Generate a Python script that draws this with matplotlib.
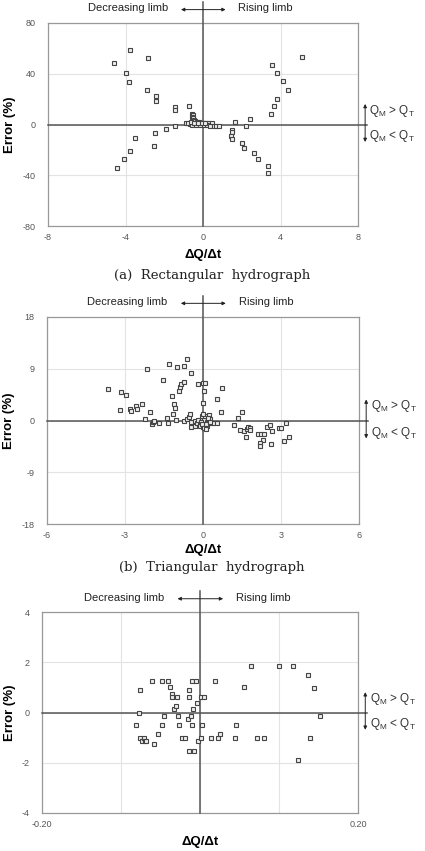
import matplotlib
matplotlib.use('Agg')
import matplotlib.pyplot as plt

plt.rcParams['font.family'] = ['Liberation Sans', 'DejaVu Sans']
plt.rcParams['axes.unicode_minus'] = False

# (a) Rectangular hydrograph
rect_dqdt = [-4.58, -3.75, -2.82, -3.98, -3.82, -2.87, -2.41, -2.41, -1.43, -1.43, -0.71,
             -1.46, -1.93, -2.50, -3.53, -2.53, -3.75, -4.10, -4.42,
             -0.55, -0.52, -0.55, -0.50, -0.45, -0.40, -0.30, -0.20, -0.10, 0.00, 0.10, 0.20, 0.30, 0.45,
             -0.86, -0.69, -0.55, -0.34, -0.17, 0.03, 0.21, 0.38, 0.55, 0.69, 0.81,
             -0.75, -0.60, -0.45, -0.25, -0.05, 0.12,
             5.09, 3.55, 3.84, 4.13, 4.37, 3.84, 3.68, 3.51, 2.43, 1.67, 2.20,
             1.48, 1.50, 1.45, 1.50, 2.03, 2.14, 2.65, 2.82, 3.36, 3.36]
rect_err = [48.3, 58.8, 52.8, 40.4, 33.8, 27.4, 22.7, 18.7, 14.0, 11.1, 14.8,
            -1.3, -3.7, -6.6, -10.6, -16.6, -20.8, -27.2, -34.0,
            8.5, 7.2, 6.0, 4.8, 3.8, 3.0, 2.2, 1.6, 1.2, 1.0, 0.8, 0.8, 0.8, 1.5,
            0.8, 0.5, 0.0, -0.3, -0.5, -0.6, -0.7, -0.8, -0.8, -0.8, -0.8,
            1.5, 1.6, 1.4, 1.2, 1.0, 1.3,
            53.0, 47.2, 40.9, 34.0, 26.9, 20.3, 14.5, 8.4, 4.5, 1.6, -1.5,
            -4.3, -6.3, -9.0, -11.6, -14.8, -18.5, -22.7, -27.5, -33.0, -38.6]

# (b) Triangular hydrograph
tri_dqdt = [-3.64, -3.16, -2.97, -3.21, -2.80, -2.77, -2.57, -2.54, -2.34, -2.25, -2.05, -2.15,
            -1.98, -1.93, -1.87, -1.68, -1.53, -1.39, -1.36, -1.32, -1.19, -1.10, -1.09, -1.16,
            -1.04, -1.01, -0.91, -0.87, -0.86, -0.73, -0.73, -0.60, -0.46, -0.72, -0.63, -0.55,
            -0.50, -0.47, -0.18, 0.00, 0.08, 0.03, 0.00, 0.52, 0.73, 0.69,
            -0.46, -0.32, -0.31, -0.24, -0.13, -0.12, -0.05, -0.03, 0.01, 0.04, 0.08, 0.14, 0.14,
            0.20, 0.24, 0.27, 0.33, 0.40, 0.52, -0.18, -0.09, 0.10, 0.27, -0.05, 0.20, -0.01,
            0.05, 0.12,
            1.20, 1.36, 1.51, 1.42, 1.59, 1.70, 1.74, 1.82, 1.82, 1.66, 2.12, 2.23, 2.34, 2.29,
            2.21, 2.21, 2.46, 2.56, 2.61, 2.67, 2.94, 2.99, 3.12, 3.18, 3.31]
tri_err = [5.5, 5.0, 4.5, 1.8, 2.0, 1.65, 2.6, 2.05, 2.9, 0.26, 1.5, 9.0,
           -0.6, -0.26, 0.0, -0.38, 7.1, 0.43, -0.38, 9.8, 4.25, 2.9, 2.2, 1.2,
           0.03, 9.3, 5.1, 5.8, 6.4, 6.7, 9.5, 10.7, 8.2, 0.0, 0.26, 0.55,
           1.13, -1.1, 6.4, 6.6, 6.6, 5.2, 3.1, 3.8, 5.6, 1.4,
           -0.32, 0.0, -0.9, -0.38, -0.5, -0.95, 0.2, 0.8, -1.07, 0.09, 0.8, -0.2, -0.95,
           -0.5, 0.95, 0.26, -0.5, -0.5, -0.5, 0.09, -0.2, -0.6, -0.2, -0.6, 0.4, 1.2,
           -1.3, -1.45,
           -0.8, 0.4, 1.5, -1.65, -1.8, -1.5, -1.2, -1.3, -1.65, -2.9, -2.35, -2.35, -2.35, -3.4,
           -3.95, -4.4, -1.1, -0.7, -4.0, -1.9, -1.25, -1.35, -3.5, -0.4, -2.9]

# (c) third case
c_dqdt = [-0.0758, -0.0775, -0.0804, -0.076, -0.074, -0.071, -0.070, -0.068, -0.0606, -0.0581,
          -0.053, -0.048, -0.048, -0.046, -0.040, -0.0375, -0.036, -0.035, -0.033, -0.031,
          -0.029, -0.028, -0.027, -0.023, -0.0185, -0.0143, -0.0072, -0.0143, -0.0143, -0.0156,
          -0.0118, -0.010, -0.0093, -0.0097, -0.005, -0.0038, -0.003, 0.0013, 0.0017, 0.005,
          0.0025, 0.0139, 0.0185, 0.0227, 0.0248, 0.0438, 0.0459, 0.0552, 0.0648, 0.0716,
          0.0808, 0.0998, 0.118, 0.137, 0.139, 0.144, 0.124, 0.1516]
c_err = [0.88, 0.0, -0.50, -1.0, -1.12, -1.0, -1.12, -1.12, 1.27, -1.25,
         -0.87, 1.27, -0.5, -0.12, 1.27, 1.0, 0.75, 0.62, 0.14, 0.25,
         0.62, -0.12, -0.5, -1.0, -1.0, -1.52, -1.52, 0.88, 0.62, -0.25,
         -0.12, -0.5, 0.14, 1.27, 1.27, 0.38, -1.14, -1.0, 0.62, 0.62,
         -0.5, -1.0, 1.27, -1.0, -0.87, -1.0, -0.5, 1.0, 1.86, -1.0,
         -1.0, 1.86, 1.86, 1.48, -1.0, 0.99, -1.9, -0.13]


def draw_panel(ax, x, y, lim_x, lim_y, xticks, yticks, xticklabels, ylab_x, xlab_y):
    ax.set_xlim(lim_x)
    ax.set_ylim(lim_y)
    ax.set_xticks(xticks)
    ax.set_xticklabels(xticklabels)
    ax.set_yticks(yticks)
    ax.grid(True, color='#e3e3e3', lw=0.8)
    ax.set_axisbelow(True)
    for s in ax.spines.values():
        s.set_color('#999999')
        s.set_linewidth(0.9)
    ax.tick_params(length=0, labelsize=6.5, labelcolor='#555555')
    ax.tick_params(axis='x', pad=5)
    ax.tick_params(axis='y', pad=9)

    ax.axhline(0, xmin=0, xmax=1.03, color='#555555', lw=1.1, clip_on=False, zorder=3)
    ax.axvline(0, ymin=0, ymax=1.103, color='#555555', lw=1.1, clip_on=False, zorder=3)

    ax.plot(x, y, 's', ms=3.1, mfc='#eeeeee', mec='#444444', mew=0.8, zorder=4)

    ax.set_xlabel('ΔQ/Δt', fontsize=9.5, fontweight='bold', va='center')
    ax.set_ylabel('Error (%)', fontsize=9.5, fontweight='bold', va='center')
    ax.xaxis.set_label_coords(0.5, xlab_y)
    ax.yaxis.set_label_coords(ylab_x, 0.5)

    ax.text(0.387, 1.072, 'Decreasing limb', transform=ax.transAxes, ha='right', va='center',
            fontsize=8, color='#222222')
    ax.text(0.614, 1.072, 'Rising limb', transform=ax.transAxes, ha='left', va='center',
            fontsize=8, color='#222222')
    ax.annotate('', xy=(0.42, 1.066), xytext=(0.582, 1.066), xycoords='axes fraction',
                arrowprops=dict(arrowstyle='<|-|>', color='#222222', lw=0.7, mutation_scale=5))

    ax.annotate('', xy=(1.023, 0.40), xytext=(1.023, 0.615), xycoords='axes fraction',
                arrowprops=dict(arrowstyle='<|-|>', color='#222222', lw=0.7, mutation_scale=5))
    ax.text(1.037, 0.568, r'Q$_\mathregular{M}$ > Q$_\mathregular{T}$', transform=ax.transAxes,
            ha='left', va='center', fontsize=8.5, color='#333333')
    ax.text(1.037, 0.441, r'Q$_\mathregular{M}$ < Q$_\mathregular{T}$', transform=ax.transAxes,
            ha='left', va='center', fontsize=8.5, color='#333333')


fig = plt.figure(figsize=(4.25, 8.51), dpi=100)

ax1 = fig.add_axes([48 / 425, 1 - 226 / 851, 310 / 425, 203 / 851])
draw_panel(ax1, rect_dqdt, rect_err, (-8, 8), (-80, 80), [-8, -4, 0, 4, 8], [-80, -40, 0, 40, 80],
           ['-8', '-4', '0', '4', '8'], (10 - 48) / 310, -0.143)

ax2 = fig.add_axes([47 / 425, 1 - 524 / 851, 312 / 425, 207 / 851])
draw_panel(ax2, tri_dqdt, tri_err, (-6, 6), (-18, 18), [-6, -3, 0, 3, 6], [-18, -9, 0, 9, 18],
           ['-6', '-3', '0', '3', '6'], (9 - 47) / 312, -0.126)

ax3 = fig.add_axes([42 / 425, 1 - 813 / 851, 316 / 425, 201 / 851])
draw_panel(ax3, c_dqdt, c_err, (-0.2, 0.2), (-4, 4), [-0.2, -0.1, 0, 0.1, 0.2], [-4, -2, 0, 2, 4],
           ['-0.20', '', '', '', '0.20'], (10 - 42) / 316, -0.143)

fig.text(212 / 425, 1 - 275 / 851, '(a)  Rectangular  hydrograph', ha='center', va='center',
         fontsize=9.5, family='DejaVu Serif', color='#222222')
fig.text(212 / 425, 1 - 567 / 851, '(b)  Triangular  hydrograph', ha='center', va='center',
         fontsize=9.5, family='DejaVu Serif', color='#222222')

fig.savefig('out.png', dpi=100)
